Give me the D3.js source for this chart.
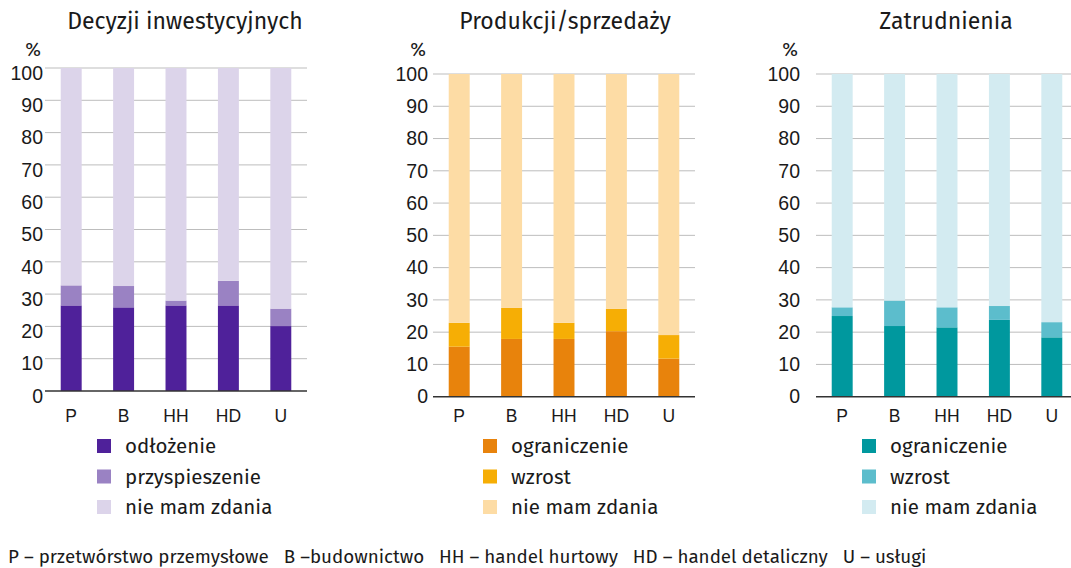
<!DOCTYPE html>
<html>
<head>
<meta charset="utf-8">
<script src="https://cdn.jsdelivr.net/npm/d3@7"></script>
<style>
  body { margin: 0; background: #fff; }
  svg { font-family: "Fira Sans", "Noto Sans", sans-serif; }
</style>
</head>
<body>
<script>
// sektory
const categories = ["P", "B", "HH", "HD", "U"];
const yTicks = [0, 10, 20, 30, 40, 50, 60, 70, 80, 90, 100];

// Decyzji inwestycyjnych
const invTitle = "Decyzji inwestycyjnych";
const invSeries = ["odłożenie", "przyspieszenie", "nie mam zdania"];
const invOdlozenie = [26.5, 25.9, 26.5, 26.5, 20.1];
const invPrzysp = [6.2, 6.6, 1.5, 7.6, 5.4];
const invColors = ["#4f219a", "#9a82c3", "#dcd4ea"];

// Produkcji/sprzedaży
const prodTitle = "Produkcji/sprzedaży";
const prodSeries = ["ograniczenie", "wzrost", "nie mam zdania"];
const prodOgr = [15.5, 17.9, 17.9, 20.3, 11.8];
const prodWzrost = [7.4, 9.6, 5.0, 6.9, 7.3];
const prodColors = ["#e8830c", "#f6ae05", "#fddca5"];

// Zatrudnienia
const empTitle = "Zatrudnienia";
const empSeries = ["ograniczenie", "wzrost", "nie mam zdania"];
const empOgr = [25.0, 21.9, 21.5, 23.8, 18.4];
const empWzrost = [2.7, 7.9, 6.2, 4.3, 4.7];
const empColors = ["#00989e", "#5cbdcc", "#d3ebf1"];

const footer = "P – przetwórstwo przemysłowe   B –budownictwo   HH – handel hurtowy   HD – handel detaliczny   U – usługi";

const W = 1071, H = 568;
const svg = d3.select("body").append("svg").attr("width", W).attr("height", H);

function drawPanel(cfg) {
  const x = d3.scaleBand().domain(categories).range([cfg.x0, cfg.x1])
    .paddingInner(0.6).paddingOuter(0.3);
  const y = d3.scaleLinear().domain([0, 100]).range([cfg.y0, cfg.y1]);
  const g = svg.append("g");

  // gridlines
  g.selectAll(".grid").data(yTicks.slice(1)).enter().append("line")
    .attr("x1", cfg.x0).attr("x2", cfg.x1)
    .attr("y1", d => y(d)).attr("y2", d => y(d))
    .attr("stroke", "#bdbdbd").attr("stroke-width", 1);

  const rows = categories.map((c, i) => ({ cat: c, a: cfg.a[i], b: cfg.b[i], c: 100 - cfg.a[i] - cfg.b[i] }));
  const stack = d3.stack().keys(["a", "b", "c"])(rows);

  g.selectAll(".layer").data(stack).enter().append("g")
    .attr("fill", (d, i) => cfg.colors[i])
    .selectAll("rect").data(d => d).enter().append("rect")
    .attr("x", d => x(d.data.cat))
    .attr("width", x.bandwidth())
    .attr("y", d => y(d[1]))
    .attr("height", d => y(d[0]) - y(d[1]));

  // baseline
  g.append("line").attr("x1", cfg.x0).attr("x2", cfg.x1)
    .attr("y1", y(0)).attr("y2", y(0))
    .attr("stroke", "#333").attr("stroke-width", 1.5);

  // y axis labels (first panel's labels sit a little below its gridlines)
  const yAxis = d3.axisLeft(y).tickValues(yTicks).tickSize(0).tickPadding(0);
  const ya = g.append("g").attr("transform", "translate(" + cfg.labelX + "," + cfg.labelShift + ")").call(yAxis);
  ya.select(".domain").remove();
  ya.selectAll("text").attr("font-size", 19.5).attr("fill", "#1a1a1a")
    .attr("font-family", "inherit");

  // x axis labels
  const xAxis = d3.axisBottom(x).tickSize(0).tickPadding(0);
  const xa = g.append("g").attr("transform", "translate(0,410)").call(xAxis);
  xa.select(".domain").remove();
  xa.selectAll("text").attr("font-size", 17.5).attr("fill", "#1a1a1a")
    .attr("font-family", "inherit");

  g.append("text").attr("x", cfg.labelX - 10).attr("y", 56)
    .attr("text-anchor", "middle").attr("font-size", 19).attr("fill", "#1a1a1a").text("%");

  g.append("text").attr("x", cfg.titleX).attr("y", 29)
    .attr("text-anchor", "middle").attr("font-size", 23).attr("fill", "#1a1a1a").text(cfg.title);

  // legend
  const lg = g.selectAll(".leg").data(cfg.series).enter().append("g")
    .attr("transform", (d, i) => "translate(" + cfg.legX + "," + (446 + i * 30.5) + ")");
  lg.append("rect").attr("x", 0).attr("y", -7).attr("width", 14).attr("height", 14)
    .attr("fill", (d, i) => cfg.colors[i]);
  lg.append("text").attr("x", 28).attr("y", 0).attr("dy", "0.35em")
    .attr("font-size", 20.5).attr("fill", "#1a1a1a").text(d => d);
}

drawPanel({ title: invTitle, series: invSeries, a: invOdlozenie, b: invPrzysp, colors: invColors,
  x0: 45, x1: 307, y0: 391, y1: 68, labelX: 43, labelShift: 5, titleX: 185, legX: 97 });
drawPanel({ title: prodTitle, series: prodSeries, a: prodOgr, b: prodWzrost, colors: prodColors,
  x0: 433, x1: 695, y0: 396.7, y1: 74, labelX: 428, labelShift: 0, titleX: 565, legX: 483 });
drawPanel({ title: empTitle, series: empSeries, a: empOgr, b: empWzrost, colors: empColors,
  x0: 816, x1: 1078, y0: 396.7, y1: 74, labelX: 800, labelShift: 0, titleX: 946, legX: 862 });

svg.append("text").attr("x", 8).attr("y", 563).attr("font-size", 18.8)
  .attr("fill", "#1a1a1a").attr("xml:space", "preserve").style("white-space", "pre")
  .text(footer);
</script>
</body>
</html>
